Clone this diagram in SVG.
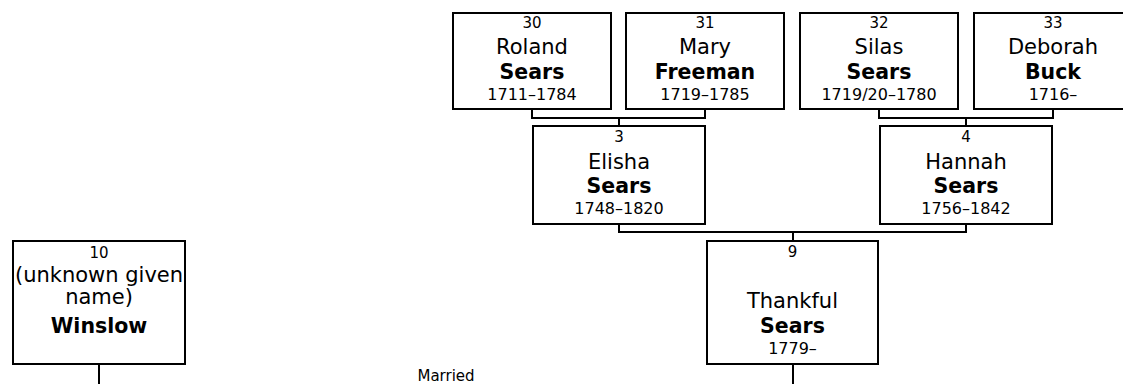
<svg xmlns="http://www.w3.org/2000/svg" width="1123" height="384" viewBox="0 0 1123 384">
<style>
.box{fill:#fff;stroke:#000;stroke-width:2}
.ln{fill:none;stroke:#000;stroke-width:2}
text{font-family:"DejaVu Sans","Verdana",sans-serif;fill:#000;text-anchor:middle}
.num{font-size:15px}
.nm{font-size:21px}
.sn{font-size:20.5px;font-weight:bold}
.dt{font-size:16px}
.lbl{font-size:15px}
</style>
<rect width="1123" height="384" fill="#fff"/>
<g id="connectors">
<path class="ln" d="M532,109 V118 H705 V109 M619,118 V126"/>
<path class="ln" d="M879,109 V118 H1053 V109 M966,118 V126"/>
<path class="ln" d="M619,224 V232 H966 V224 M793,232 V241"/>
<path class="ln" d="M99,364 V384 M793,364 V384"/>
</g>
<g id="p30">
<rect class="box" x="453" y="13" width="158" height="96"/>
<text class="num" x="532" y="28">30</text>
<text class="nm" x="532" y="54">Roland</text>
<text class="sn" x="532" y="79">Sears</text>
<text class="dt" x="532" y="100">1711–1784</text>
</g>
<g id="p31">
<rect class="box" x="626" y="13" width="158" height="96"/>
<text class="num" x="705" y="28">31</text>
<text class="nm" x="705" y="54">Mary</text>
<text class="sn" x="705" y="79">Freeman</text>
<text class="dt" x="705" y="100">1719–1785</text>
</g>
<g id="p32">
<rect class="box" x="800" y="13" width="158" height="96"/>
<text class="num" x="879" y="28">32</text>
<text class="nm" x="879" y="54">Silas</text>
<text class="sn" x="879" y="79">Sears</text>
<text class="dt" x="879" y="100">1719/20–1780</text>
</g>
<g id="p33">
<rect class="box" x="974" y="13" width="158" height="96"/>
<text class="num" x="1053" y="28">33</text>
<text class="nm" x="1053" y="54">Deborah</text>
<text class="sn" x="1053" y="79">Buck</text>
<text class="dt" x="1053" y="100">1716–</text>
</g>
<g id="p3">
<rect class="box" x="533" y="126" width="172" height="98"/>
<text class="num" x="619" y="142">3</text>
<text class="nm" x="619" y="169">Elisha</text>
<text class="sn" x="619" y="193">Sears</text>
<text class="dt" x="619" y="214">1748–1820</text>
</g>
<g id="p4">
<rect class="box" x="880" y="126" width="172" height="98"/>
<text class="num" x="966" y="142">4</text>
<text class="nm" x="966" y="169">Hannah</text>
<text class="sn" x="966" y="193">Sears</text>
<text class="dt" x="966" y="214">1756–1842</text>
</g>
<g id="p9">
<rect class="box" x="707" y="241" width="171" height="123"/>
<text class="num" x="792.5" y="257">9</text>
<text class="nm" x="792.5" y="308">Thankful</text>
<text class="sn" x="792.5" y="333">Sears</text>
<text class="dt" x="792.5" y="354">1779–</text>
</g>
<g id="p10">
<rect class="box" x="13" y="241" width="172" height="123"/>
<text class="num" x="99" y="258">10</text>
<text class="nm" x="99" y="282">(unknown given</text>
<text class="nm" x="99" y="304">name)</text>
<text class="sn" x="99" y="333">Winslow</text>
</g>
<g id="label">
<text class="lbl" x="446" y="381">Married</text>
</g>
</svg>
